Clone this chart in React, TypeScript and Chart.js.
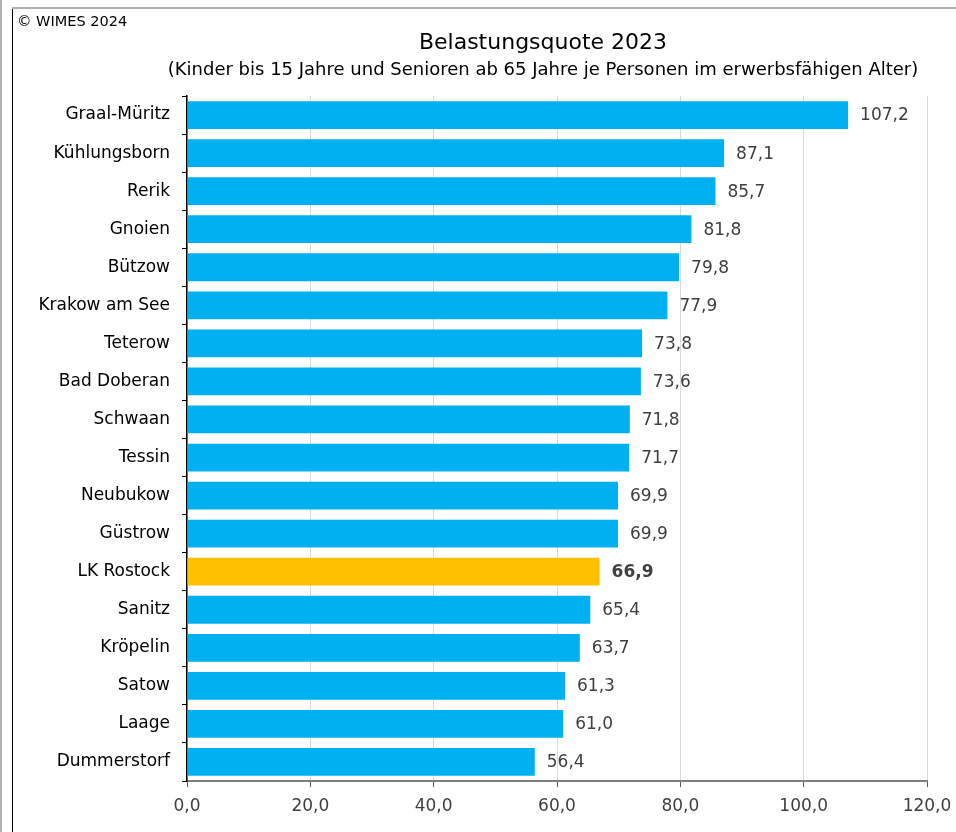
import React, { useEffect, useRef } from "react";
import { Chart, registerables } from "chart.js";

Chart.register(...registerables);

const categories = [
  "Graal-Müritz", "Kühlungsborn", "Rerik", "Gnoien", "Bützow", "Krakow am See",
  "Teterow", "Bad Doberan", "Schwaan", "Tessin", "Neubukow", "Güstrow",
  "LK Rostock", "Sanitz", "Kröpelin", "Satow", "Laage", "Dummerstorf",
];
const values = [
  107.2, 87.1, 85.7, 81.8, 79.8, 77.9, 73.8, 73.6, 71.8, 71.7, 69.9, 69.9,
  66.9, 65.4, 63.7, 61.3, 61.0, 56.4,
];
const highlight = "LK Rostock";
const xTicks = [0, 20, 40, 60, 80, 100, 120];
const titleText = "Belastungsquote 2023";
const subtitleText = "(Kinder bis 15 Jahre und Senioren ab 65 Jahre je Personen im erwerbsfähigen Alter)";
const copyrightText = "© WIMES 2024";

const FONT = '"DejaVu Sans", sans-serif';
const fmt = (v: number) => v.toFixed(1).replace(".", ",");

export default function App() {
  const ref = useRef<HTMLCanvasElement | null>(null);
  useEffect(() => {
    if (!ref.current) return;
    const textPlugin = {
      id: "texts",
      afterDraw(chart: any) {
        const ctx = chart.ctx;
        ctx.save();
        ctx.textBaseline = "middle";
        ctx.fillStyle = "#000";
        ctx.textAlign = "left";
        ctx.font = `14.5px ${FONT}`;
        ctx.fillText(copyrightText, 17, 22);
        ctx.textAlign = "center";
        ctx.font = `22px ${FONT}`;
        ctx.fillText(titleText, 543, 43);
        ctx.font = `18px ${FONT}`;
        ctx.fillText(subtitleText, 543, 70);
        // value labels
        const meta = chart.getDatasetMeta(0);
        meta.data.forEach((bar: any, i: number) => {
          const bold = categories[i] === highlight;
          ctx.font = `${bold ? "bold " : ""}17px ${FONT}`;
          ctx.fillStyle = "#404040";
          ctx.textAlign = "left";
          ctx.fillText(fmt(values[i]), bar.x + 12, bar.y + 1);
        });
        ctx.restore();
      },
    };
    const chart = new Chart(ref.current, {
      type: "bar",
      data: {
        labels: categories,
        datasets: [
          {
            data: values,
            backgroundColor: categories.map((c) => (c === highlight ? "#FFC000" : "#00B0F0")),
            borderWidth: 0,
            barPercentage: 0.73,
            categoryPercentage: 1,
          },
        ],
      },
      options: {
        indexAxis: "y",
        responsive: false,
        animation: false,
        layout: { padding: { top: 96, right: 29, bottom: 0, left: 0 } },
        plugins: { legend: { display: false }, tooltip: { enabled: false }, title: { display: false } },
        scales: {
          x: {
            min: 0,
            max: 120,
            afterBuildTicks: (s: any) => { s.ticks = xTicks.map((v) => ({ value: v })); },
            afterFit: (s: any) => { s.height = 51; s.paddingRight = 0; s.paddingLeft = 0; },
            ticks: {
              callback: (v: any) => fmt(Number(v)),
              color: "#404040",
              font: { family: FONT, size: 17 },
              padding: 9,
              maxRotation: 0,
            },
            grid: { color: "#d9d9d9", tickColor: "#595959", tickLength: 6, lineWidth: 1 },
            border: { color: "#7f7f7f", width: 2 },
          },
          y: {
            afterFit: (s: any) => { s.width = 187; },
            ticks: {
              color: "#000",
              font: { family: FONT, size: 17 },
              padding: 12,
            },
            grid: { drawOnChartArea: false, tickColor: "#000", tickLength: 5, offset: true },
            border: { color: "#000", width: 1.5 },
          },
        },
      },
      plugins: [textPlugin],
    });
    return () => chart.destroy();
  }, []);
  return (
    <div style={{ position: "absolute", left: 0, top: 0, width: 956, height: 832, background: "#fff" }}>
      <canvas ref={ref} width={956} height={832} style={{ position: "absolute", left: 0, top: 0 }} />
      <div style={{ position: "absolute", left: 0, top: 0, width: 2, height: 832, background: "#b0b0b0" }} />
      <div style={{ position: "absolute", left: 12, top: 7, width: 1, height: 825, background: "#000" }} />
      <div style={{ position: "absolute", left: 12, top: 7, width: 944, height: 2, background: "#b0b0b0" }} />
    </div>
  );
}
